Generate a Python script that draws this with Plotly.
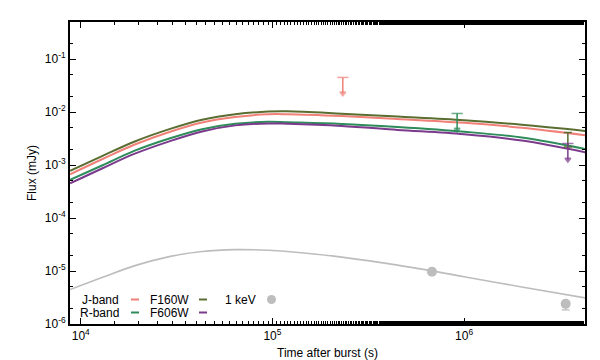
"""GRB afterglow light curves: optical/IR model curves, X-ray model and data."""

import plotly.graph_objects as go

# model time grid (s) and model fluxes (mJy)
t_model = [8800, 1.3e4, 1.9e4, 2.9e4, 4.3e4, 6.4e4, 9.5e4, 1.2e5, 2.3e5, 4.5e5, 1.0e6, 2.0e6, 4.3e6]
j_band = [6.7e-4, 1.30e-3, 2.41e-3, 4.2e-3, 6.35e-3, 8.07e-3, 9.1e-3, 9.1e-3, 8.4e-3, 7.4e-3, 6.25e-3, 5.05e-3, 3.65e-3]
f160w = [7.8e-4, 1.49e-3, 2.75e-3, 4.75e-3, 7.15e-3, 9.1e-3, 1.02e-2, 1.03e-2, 9.3e-3, 8.2e-3, 7.0e-3, 5.75e-3, 4.4e-3]
r_band = [5.25e-4, 9.9e-4, 1.85e-3, 3.17e-3, 4.75e-3, 6.0e-3, 6.55e-3, 6.4e-3, 5.95e-3, 5.2e-3, 4.25e-3, 3.3e-3, 2.0e-3]
f606w = [4.5e-4, 8.7e-4, 1.62e-3, 2.8e-3, 4.3e-3, 5.6e-3, 6.1e-3, 6.0e-3, 5.45e-3, 4.6e-3, 3.8e-3, 2.9e-3, 1.74e-3]
xray_1kev = [4.47e-6, 7.6e-6, 1.25e-5, 1.87e-5, 2.34e-5, 2.53e-5, 2.47e-5, 2.34e-5, 1.83e-5, 1.29e-5, 7.8e-6, 5.0e-6, 3.1e-6]

# observations
j_ul_t, j_ul = [2.33e5], [0.045]
r_ul_t, r_ul = [9.2e5], [9.4e-3]
f606w_ul_t, f606w_ul = [3.48e6], [2.55e-3]
f160w_t, f160w_f, f160w_hi, f160w_lo = [3.48e6], [3.0e-3], [1.1e-3], [0.8e-3]
xray_t, xray_f, xray_lo = [6.8e5, 3.39e6], [9.7e-6, 2.4e-6], [0.0, 0.55e-6]

x_ticks = [1e4, 1e5, 1e6]
x_ticktext = ["10<sup>4</sup>", "10<sup>5</sup>", "10<sup>6</sup>"]
y_ticks = [1e-6, 1e-5, 1e-4, 1e-3, 1e-2, 1e-1]
y_ticktext = ["10<sup>-6</sup>", "10<sup>-5</sup>", "10<sup>-4</sup>",
              "10<sup>-3</sup>", "10<sup>-2</sup>", "10<sup>-1</sup>"]

PINK = "#f08078"
OLIVE = "#5a6e32"
GREEN = "#2e8b5a"
PURPLE = "#7b3a8c"
GRAY = "#bdbdbd"

W, H = 600, 360
ML, MR, MT, MB = 62, 23, 14, 44
ARROW = 2.0  # length of upper-limit arrows (factor in flux)


def px(x):
    return (x - ML) / (W - ML - MR)


def py(y):
    return 1 - (y - MT) / (H - MT - MB)


def upper_limit(t, ul, color):
    xs, ys = [], []
    for ti, fi in zip(t, ul):
        xs += [ti, ti]
        ys += [fi, fi / ARROW]
    return go.Scatter(
        x=xs, y=ys, mode="lines+markers", showlegend=False,
        line={"color": color, "width": 1.5},
        marker={"symbol": ["line-ew", "triangle-down"] * len(t), "size": [8, 5] * len(t),
                "color": color, "line": {"color": color, "width": 1.5}},
    )


fig = go.Figure()
fig.add_trace(go.Scatter(x=t_model, y=xray_1kev, mode="lines", line={"color": GRAY, "width": 1.6, "shape": "spline"}, showlegend=False))
for ys, col in [(j_band, PINK), (r_band, GREEN), (f606w, PURPLE), (f160w, OLIVE)]:
    fig.add_trace(go.Scatter(x=t_model, y=ys, mode="lines", line={"color": col, "width": 2, "shape": "spline"}, showlegend=False))

fig.add_trace(upper_limit(j_ul_t, j_ul, PINK))
fig.add_trace(upper_limit(r_ul_t, r_ul, GREEN))
fig.add_trace(go.Scatter(
    x=f160w_t, y=f160w_f, mode="markers", showlegend=False,
    marker={"size": 1, "color": OLIVE},
    error_y={"type": "data", "symmetric": False, "array": f160w_hi, "arrayminus": f160w_lo,
             "color": OLIVE, "thickness": 1.5, "width": 4},
))
fig.add_trace(upper_limit(f606w_ul_t, f606w_ul, PURPLE))
fig.add_trace(go.Scatter(
    x=xray_t, y=xray_f, mode="markers", showlegend=False,
    marker={"size": 10, "color": GRAY},
    error_y={"type": "data", "symmetric": False, "array": [0, 0], "arrayminus": xray_lo,
             "color": GRAY, "thickness": 1.2, "width": 4},
))

# gnuplot-style key: label first, then sample
font = {"family": "Liberation Sans, Arial, sans-serif", "size": 12, "color": "black"}
key = [
    ("J-band", PINK, 113, 123, 131, 291.5),
    ("R-band", GREEN, 113, 123, 131, 304.5),
    ("F160W", OLIVE, 183, 191, 199, 291.5),
    ("F606W", PURPLE, 183, 191, 199, 304.5),
]
for label, col, tx, x0, x1, yy in key:
    fig.add_annotation(x=px(tx), y=py(yy), xref="paper", yref="paper", text=label,
                       showarrow=False, xanchor="right", yanchor="middle", font=font)
    fig.add_shape(type="line", xref="paper", yref="paper", x0=px(x0), x1=px(x1),
                  y0=py(yy), y1=py(yy), opacity=1, line={"color": col, "width": 2})
fig.add_annotation(x=px(250), y=py(291.5), xref="paper", yref="paper", text="1 keV",
                   showarrow=False, xanchor="right", yanchor="middle", font=font)
fig.add_shape(type="circle", xref="paper", yref="paper", xsizemode="pixel", ysizemode="pixel",
              xanchor=px(263.5), yanchor=py(291.5), x0=-4.5, x1=4.5, y0=-4.5, y1=4.5,
              opacity=1, fillcolor=GRAY, line={"width": 0})

axis_common = dict(
    type="log", showgrid=False, zeroline=False, showline=True, linecolor="black", linewidth=2,
    mirror="allticks", ticks="inside", ticklen=6, tickwidth=1, tickcolor="black",
    minor={"ticks": "inside", "ticklen": 3, "tickwidth": 1, "tickcolor": "black", "showgrid": False},
    tickfont=font, title_font=font,
)
fig.update_xaxes(range=[3.944, 6.631], tickvals=x_ticks, ticktext=x_ticktext,
                 title_text="Time after burst (s)", title_standoff=6, **axis_common)
fig.update_yaxes(range=[-6, -0.301], tickvals=y_ticks, ticktext=y_ticktext,
                 title_text="Flux (mJy)", title_standoff=6, **axis_common)

fig.update_layout(
    width=W, height=H, template="none", plot_bgcolor="white", paper_bgcolor="white",
    margin={"l": ML, "r": MR, "t": MT, "b": MB}, font=font, showlegend=False,
)
fig.write_html("out.html")
